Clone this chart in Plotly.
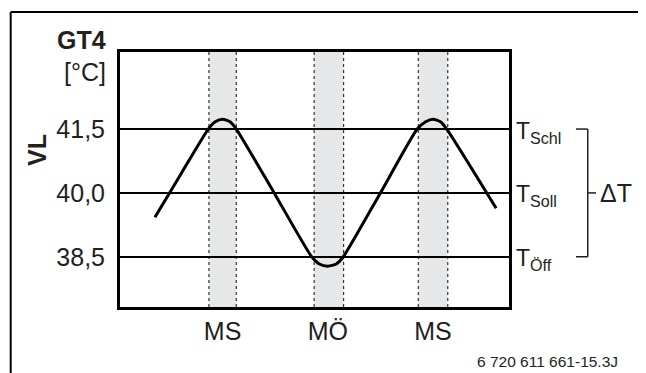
import plotly.graph_objects as go

# ---- data ----
curve_x = [0.357, 0.61, 0.864, 0.93, 1.0, 1.07, 1.13, 1.49, 1.847, 1.92, 2.0, 2.08, 2.147,
           2.50, 2.85, 2.93, 3.0, 3.07, 3.13, 3.60]
curve_y = [39.43, 40.47, 41.50, 41.67, 41.73, 41.67, 41.50, 40.00, 38.50, 38.33, 38.28, 38.33, 38.50,
           40.00, 41.50, 41.67, 41.73, 41.67, 41.50, 39.64]

band_start = [0.87, 1.87, 2.86]
band_end = [1.13, 2.15, 3.14]

x_tickvals = [1, 2, 3]
x_ticktext = ["MS", "MÖ", "MS"]

y_tickvals = [38.5, 40.0, 41.5]
y_ticktext = ["38,5", "40,0", "41,5"]

right_labels = ["T<sub>Schl</sub>", "T<sub>Soll</sub>", "T<sub>Öff</sub>"]
right_label_y = [41.5, 40.0, 38.5]

FONT = "Liberation Sans, Arial, Helvetica, sans-serif"
TXT = "#231f20"

fig = go.Figure()
fig.add_trace(go.Scatter(
    x=curve_x, y=curve_y, mode="lines",
    line=dict(color="black", width=3, shape="spline", smoothing=0.6),
    hoverinfo="skip", showlegend=False,
))

shapes = []
for s, e in zip(band_start, band_end):
    shapes.append(dict(type="rect", xref="x", yref="paper", x0=s, x1=e, y0=0, y1=1,
                       fillcolor="#e6e7e8", line=dict(width=0), layer="below"))
    for xv in (s, e):
        shapes.append(dict(type="line", xref="x", yref="paper", x0=xv, x1=xv, y0=0, y1=1,
                           line=dict(color="#333333", width=1.2, dash="dot"), layer="below"))

# outer frame (top and left edges visible)
shapes.append(dict(type="line", xref="paper", yref="paper", x0=-0.281, x1=1.45, y0=1.157, y1=1.157,
                   line=dict(color="black", width=2)))
shapes.append(dict(type="line", xref="paper", yref="paper", x0=-0.281, x1=-0.281, y0=1.157, y1=-0.35,
                   line=dict(color="black", width=2)))

# bracket for delta T
bx = 1.2024
shapes.append(dict(type="line", xref="paper", yref="y", x0=bx, x1=bx, y0=41.5, y1=38.5,
                   line=dict(color="#231f20", width=1.5)))
for yv in (41.5, 38.5):
    shapes.append(dict(type="line", xref="paper", yref="y", x0=1.1722, x1=bx, y0=yv, y1=yv,
                       line=dict(color="#231f20", width=1.5)))
shapes.append(dict(type="line", xref="paper", yref="y", x0=bx, x1=1.2237, y0=40.0, y1=40.0,
                   line=dict(color="#231f20", width=1.5)))

annotations = []
for t, yv in zip(right_labels, right_label_y):
    annotations.append(dict(text=t, xref="paper", yref="y", x=1.012, y=yv, xanchor="left",
                            yanchor="middle", yshift=-3, showarrow=False,
                            font=dict(family=FONT, size=23, color=TXT)))
annotations.append(dict(text="ΔT", xref="paper", yref="y", x=1.2288, y=40.0, xanchor="left",
                        yanchor="middle", showarrow=False,
                        font=dict(family=FONT, size=25, color=TXT)))
annotations.append(dict(text="<b>GT4</b>", xref="paper", yref="paper", x=-0.0308, y=1.047,
                        xanchor="right", yanchor="middle", showarrow=False,
                        font=dict(family=FONT, size=25, color=TXT)))
annotations.append(dict(text="[°C]", xref="paper", yref="paper", x=-0.0308, y=0.9216,
                        xanchor="right", yanchor="middle", showarrow=False,
                        font=dict(family=FONT, size=25, color=TXT)))
annotations.append(dict(text="<b>VL</b>", xref="paper", yref="paper", x=-0.2134, y=0.6157,
                        xanchor="center", yanchor="middle", textangle=-90, showarrow=False,
                        font=dict(family=FONT, size=25, color=TXT)))
annotations.append(dict(text="6 720 611 661-15.3J", xref="paper", yref="paper", x=1.2853, y=-0.2118,
                        xanchor="right", yanchor="middle", showarrow=False,
                        font=dict(family=FONT, size=15.5, color=TXT)))

# page body has an 8px margin; size the figure so the plot area lands where the reference has it
fig.update_layout(
    width=638, height=365,
    margin=dict(l=112, r=137, t=44, b=66),
    paper_bgcolor="white", plot_bgcolor="white",
    shapes=shapes, annotations=annotations,
    showlegend=False,
    xaxis=dict(range=[0.025, 3.722], tickvals=x_tickvals, ticktext=x_ticktext,
               showgrid=False, zeroline=False, showline=True, mirror=True,
               linecolor="black", linewidth=3, ticks="", ticklabelstandoff=0,
               tickfont=dict(family=FONT, size=25, color=TXT), fixedrange=True),
    yaxis=dict(range=[37.32, 43.31], tickvals=y_tickvals, ticktext=y_ticktext,
               showgrid=True, gridcolor="black", gridwidth=1.6, zeroline=False,
               showline=True, mirror=True, linecolor="black", linewidth=3, ticks="",
               ticklabelstandoff=7,
               tickfont=dict(family=FONT, size=25, color=TXT), fixedrange=True),
)

fig.write_html("out.html")
